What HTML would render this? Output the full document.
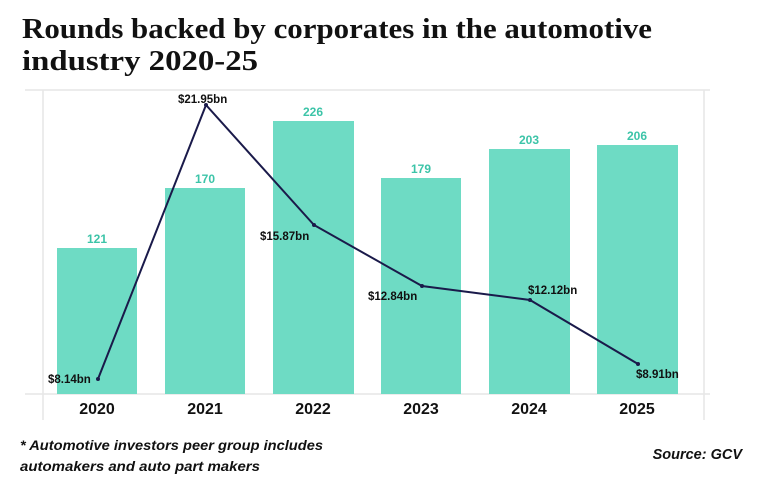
<!DOCTYPE html>
<html><head><meta charset="utf-8"><style>
body{margin:0;background:#fff;width:768px;height:481px;overflow:hidden}
</style></head><body>
<svg width="768" height="481" xmlns="http://www.w3.org/2000/svg" font-family="Liberation Sans, sans-serif">
<text x="22" y="38" font-family="Liberation Serif, serif" font-weight="bold" font-size="28" fill="#111" textLength="630" lengthAdjust="spacingAndGlyphs">Rounds backed by corporates in the automotive</text>
<text x="22" y="70" font-family="Liberation Serif, serif" font-weight="bold" font-size="28" fill="#111" textLength="236" lengthAdjust="spacingAndGlyphs">industry 2020-25</text>
<g stroke="#e6e6e6" stroke-width="1.5" fill="none">
<line x1="25" y1="90" x2="710" y2="90"/>
<line x1="43" y1="90" x2="43" y2="420"/>
<line x1="704" y1="90" x2="704" y2="420"/>
<line x1="25" y1="394" x2="710" y2="394"/>
</g>
<g fill="#6edbc4">
<rect x="57" y="248" width="80" height="146"/>
<rect x="165" y="188" width="80" height="206"/>
<rect x="273" y="121" width="81" height="273"/>
<rect x="381" y="178" width="80" height="216"/>
<rect x="489" y="149" width="81" height="245"/>
<rect x="597" y="145" width="81" height="249"/>
</g>
<g fill="#3cc4a8" font-weight="bold" font-size="12" text-anchor="middle">
<text x="97" y="243">121</text><text x="205" y="183">170</text><text x="313" y="116">226</text>
<text x="421" y="173">179</text><text x="529" y="144">203</text><text x="637" y="140">206</text>
</g>
<polyline points="98,379 206,105 314,225 422,286 530,300 638,364" fill="none" stroke="#1a1a4a" stroke-width="2"/>
<g fill="#1a1a4a"><circle cx="98" cy="379" r="2"/><circle cx="206" cy="105" r="2"/><circle cx="314" cy="225" r="2"/><circle cx="422" cy="286" r="2"/><circle cx="530" cy="300" r="2"/><circle cx="638" cy="364" r="2"/></g>
<g fill="#111" font-weight="bold" font-size="11.5">
<text x="48" y="383">$8.14bn</text>
<text x="178" y="103">$21.95bn</text>
<text x="260" y="240">$15.87bn</text>
<text x="368" y="300">$12.84bn</text>
<text x="528" y="294">$12.12bn</text>
<text x="636" y="378">$8.91bn</text>
</g>
<g fill="#111" font-weight="bold" font-size="16" text-anchor="middle">
<text x="97" y="414">2020</text><text x="205" y="414">2021</text><text x="313" y="414">2022</text>
<text x="421" y="414">2023</text><text x="529" y="414">2024</text><text x="637" y="414">2025</text>
</g>
<g fill="#111" font-style="italic" font-size="13.5" font-weight="bold">
<text x="20" y="450" textLength="303" lengthAdjust="spacingAndGlyphs">* Automotive investors peer group includes</text>
<text x="20" y="471" textLength="240" lengthAdjust="spacingAndGlyphs">automakers and auto part makers</text>
<text x="742" y="459" text-anchor="end" font-size="14.5">Source: GCV</text>
</g>
</svg>
</body></html>
